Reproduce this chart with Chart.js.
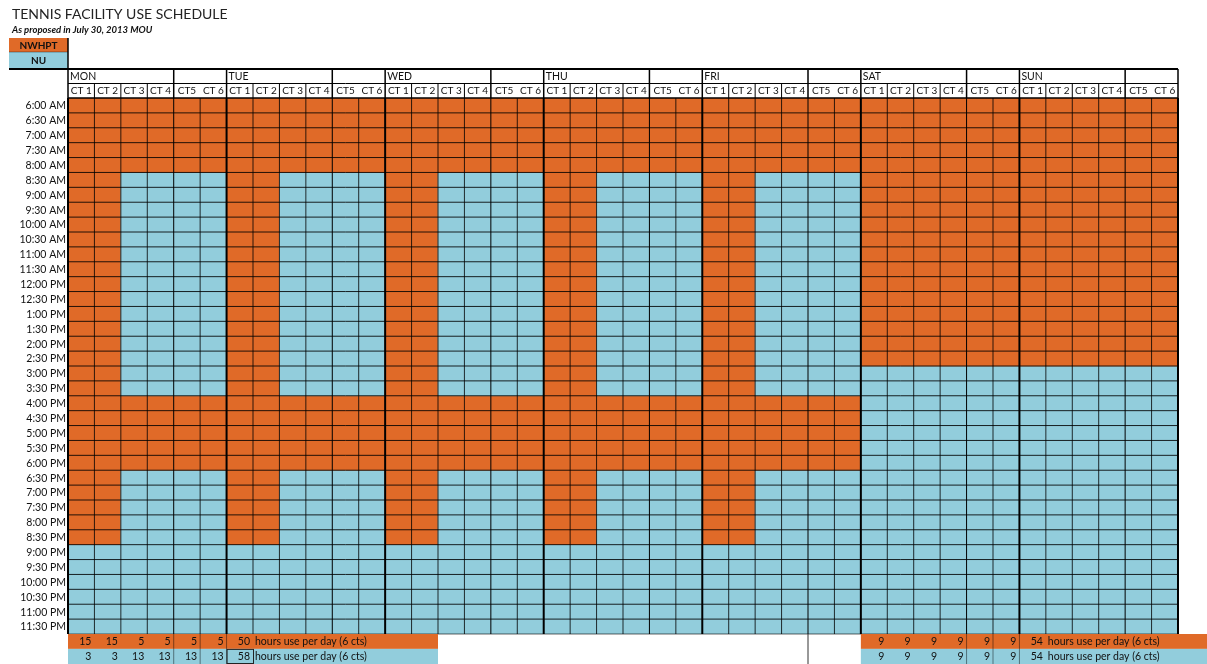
<!DOCTYPE html>
<html>
<head>
<meta charset="utf-8">
<script src="https://cdn.jsdelivr.net/npm/chart.js@4.4.1/dist/chart.umd.min.js"></script>
<style>
  html, body { margin: 0; padding: 0; background: #fff; }
  #wrap { width: 1207px; height: 664px; }
</style>
</head>
<body>
<div id="wrap"><canvas id="chart" width="1207" height="664"></canvas></div>
<script>
const ORANGE = "#E06A28";
const BLUE = "#92CDDC";
const FONT = "Lato, 'Open Sans', sans-serif";

const days = ["MON", "TUE", "WED", "THU", "FRI", "SAT", "SUN"];
const courts = ["CT 1", "CT 2", "CT 3", "CT 4", "CT5", "CT 6"];
const times = [
    "6:00 AM", "6:30 AM", "7:00 AM", "7:30 AM", "8:00 AM", "8:30 AM",
    "9:00 AM", "9:30 AM", "10:00 AM", "10:30 AM", "11:00 AM", "11:30 AM",
    "12:00 PM", "12:30 PM", "1:00 PM", "1:30 PM", "2:00 PM", "2:30 PM",
    "3:00 PM", "3:30 PM", "4:00 PM", "4:30 PM", "5:00 PM", "5:30 PM",
    "6:00 PM", "6:30 PM", "7:00 PM", "7:30 PM", "8:00 PM", "8:30 PM",
    "9:00 PM", "9:30 PM", "10:00 PM", "10:30 PM", "11:00 PM", "11:30 PM",
];

// one letter per court (CT1..CT6): N = NWHPT, U = NU
const weekdayUse = [
    "NNNNNN", "NNNNNN", "NNNNNN", "NNNNNN", "NNNNNN", "NNUUUU",
    "NNUUUU", "NNUUUU", "NNUUUU", "NNUUUU", "NNUUUU", "NNUUUU",
    "NNUUUU", "NNUUUU", "NNUUUU", "NNUUUU", "NNUUUU", "NNUUUU",
    "NNUUUU", "NNUUUU", "NNNNNN", "NNNNNN", "NNNNNN", "NNNNNN",
    "NNNNNN", "NNUUUU", "NNUUUU", "NNUUUU", "NNUUUU", "NNUUUU",
    "UUUUUU", "UUUUUU", "UUUUUU", "UUUUUU", "UUUUUU", "UUUUUU",
];
const weekendUse = [
    "NNNNNN", "NNNNNN", "NNNNNN", "NNNNNN", "NNNNNN", "NNNNNN",
    "NNNNNN", "NNNNNN", "NNNNNN", "NNNNNN", "NNNNNN", "NNNNNN",
    "NNNNNN", "NNNNNN", "NNNNNN", "NNNNNN", "NNNNNN", "NNNNNN",
    "UUUUUU", "UUUUUU", "UUUUUU", "UUUUUU", "UUUUUU", "UUUUUU",
    "UUUUUU", "UUUUUU", "UUUUUU", "UUUUUU", "UUUUUU", "UUUUUU",
    "UUUUUU", "UUUUUU", "UUUUUU", "UUUUUU", "UUUUUU", "UUUUUU",
];

// hours per court per day
const weekdayNwhptHours = [15, 15, 5, 5, 5, 5];
const weekdayNuHours = [3, 3, 13, 13, 13, 13];
const weekendNwhptHours = [9, 9, 9, 9, 9, 9];
const weekendNuHours = [9, 9, 9, 9, 9, 9];
const weekdayTotals = [50, 58];
const weekendTotals = [54, 54];
const totalNote = "hours use per day (6 cts)";

const columns = days.flatMap((d) => courts.map((c) => d + " " + c));

function cellColor(row, col) {
    const day = Math.floor(col / 6);
    const plan = day < 5 ? weekdayUse : weekendUse;
    return plan[row][col % 6] === "N" ? ORANGE : BLUE;
}

const datasets = times.map((t, r) => ({
    label: t,
    data: columns.map(() => 1),
    backgroundColor: columns.map((_, c) => cellColor(r, c)),
    borderWidth: 0,
    barPercentage: 1,
    categoryPercentage: 1,
}));

function line(ctx, x1, y1, x2, y2, w, color) {
    ctx.save();
    ctx.strokeStyle = color || "#000";
    ctx.lineWidth = w;
    ctx.beginPath();
    ctx.moveTo(x1, y1);
    ctx.lineTo(x2, y2);
    ctx.stroke();
    ctx.restore();
}

function text(ctx, str, x, y, font, align, color) {
    ctx.save();
    ctx.font = font;
    ctx.fillStyle = color || "#111";
    ctx.textAlign = align || "left";
    ctx.textBaseline = "middle";
    ctx.fillText(str, x, y);
    ctx.restore();
}

const schedulePlugin = {
    id: "schedule",
    afterDraw(chart) {
        const { ctx, chartArea } = chart;
        const xs = chart.scales.x;
        const ys = chart.scales.y;
        const colW = (xs.right - xs.left) / columns.length;
        const colLeft = (i) => xs.getPixelForValue(i) - colW / 2;
        const rowTop = (r) => ys.getPixelForValue(r);
        const rowH = rowTop(1) - rowTop(0);
        const top = chartArea.top, bottom = chartArea.bottom;
        const left = chartArea.left, right = chartArea.right;

        // title + legend
        text(ctx, "TENNIS FACILITY USE SCHEDULE", 12, 14, "14px " + FONT, "left", "#222");
        text(ctx, "As proposed in July 30, 2013 MOU", 12, 30, "italic bold 9.5px " + FONT);
        ctx.fillStyle = ORANGE;
        ctx.fillRect(9, 38, left - 9, 14);
        ctx.fillStyle = BLUE;
        ctx.fillRect(9, 52, left - 9, 16);
        text(ctx, "NWHPT", (9 + left) / 2, 45.5, "bold 10px " + FONT, "center");
        text(ctx, "NU", (9 + left) / 2, 60.5, "bold 10px " + FONT, "center");
        line(ctx, 9, 52, left, 52, 1, "rgba(0,0,0,0.35)");
        line(ctx, left, 38, left, 69, 1.5);

        // header rows
        const h1 = 69, h2 = 83.5;
        line(ctx, 9, h1, right, h1, 2);
        line(ctx, left, h2, right, h2, 1);
        line(ctx, left, top, right, top, 1.5);
        days.forEach((d, di) => {
            const x0 = colLeft(di * 6);
            text(ctx, d, x0 + 2, (h1 + h2) / 2 + 0.5, "10.5px " + FONT);
            line(ctx, x0, h1, x0, top, 1.5);
            line(ctx, colLeft(di * 6 + 4), h1, colLeft(di * 6 + 4), top, 1.5);
            courts.forEach((c, ci) => {
                const xl = colLeft(di * 6 + ci);
                text(ctx, c, xl + colW / 2, (h2 + top) / 2 + 0.5, "10px " + FONT, "center");
                if (ci > 0 && ci < 4) line(ctx, xl, h2, xl, top, 1);
            });
        });
        line(ctx, right, h1, right, top, 1.5);

        // time labels
        times.forEach((t, r) => {
            text(ctx, t, left - 2, rowTop(r) + rowH / 2 + 0.5, "10.5px " + FONT, "right");
        });

        // cell grid
        for (let r = 1; r < times.length; r++) {
            line(ctx, left, rowTop(r), right, rowTop(r), 1, "rgba(0,0,0,0.85)");
        }
        line(ctx, left, bottom, right, bottom, 1, "rgba(0,0,0,0.6)");
        for (let c = 0; c <= columns.length; c++) {
            const x = c === columns.length ? right : colLeft(c);
            const w = c % 6 === 0 ? 2 : 1;
            line(ctx, x, top, x, bottom, w, c % 6 === 0 || c % 6 === 4 ? "#000" : "rgba(0,0,0,0.8)");
        }

        // summary rows
        const sy1 = bottom, sy2 = bottom + rowH, sy3 = chart.height;
        const drawSummary = (startCol, endX, nw, nu, totals) => {
            const x0 = colLeft(startCol);
            ctx.fillStyle = ORANGE;
            ctx.fillRect(x0, sy1, endX - x0, sy2 - sy1);
            ctx.fillStyle = BLUE;
            ctx.fillRect(x0, sy2, endX - x0, sy3 - sy2);
            const f = "10.5px " + FONT;
            nw.forEach((v, i) => {
                text(ctx, String(v), colLeft(startCol + i + 1) - 3, (sy1 + sy2) / 2 + 0.5, f, "right");
            });
            nu.forEach((v, i) => {
                text(ctx, String(v), colLeft(startCol + i + 1) - 3, (sy2 + sy3) / 2 + 0.5, f, "right");
            });
            const tx = colLeft(startCol + 7);
            text(ctx, String(totals[0]), tx - 3, (sy1 + sy2) / 2 + 0.5, f, "right");
            text(ctx, String(totals[1]), tx - 3, (sy2 + sy3) / 2 + 0.5, f, "right");
            text(ctx, totalNote, tx + 2, (sy1 + sy2) / 2 + 0.5, f, "left");
            text(ctx, totalNote, tx + 2, (sy2 + sy3) / 2 + 0.5, f, "left");
            [4, 5, 6].forEach((k) => {
                const x = colLeft(startCol + k);
                line(ctx, x, sy1, x, sy3, 1, "rgba(0,0,0,0.45)");
            });
        };
        drawSummary(0, colLeft(14), weekdayNwhptHours, weekdayNuHours, weekdayTotals);
        drawSummary(30, chart.width, weekendNwhptHours, weekendNuHours, weekendTotals);
        // boxed 58
        ctx.save();
        ctx.strokeStyle = "#222";
        ctx.lineWidth = 1;
        ctx.strokeRect(colLeft(6) + 0.5, sy2 + 0.5, colW, sy3 - sy2 - 1);
        ctx.restore();
        line(ctx, colLeft(28), sy1, colLeft(28), sy3, 1, "#333");
    },
};

new Chart(document.getElementById("chart"), {
    type: "bar",
    data: { labels: columns, datasets },
    options: {
        responsive: false,
        animation: false,
        events: [],
        layout: { padding: { left: 68, right: 29, top: 98, bottom: 30 } },
        plugins: { legend: { display: false }, tooltip: { enabled: false } },
        scales: {
            x: { stacked: true, display: false },
            y: { stacked: true, display: false, reverse: true, min: 0, max: times.length },
        },
    },
    plugins: [schedulePlugin],
});
</script>
</body>
</html>
